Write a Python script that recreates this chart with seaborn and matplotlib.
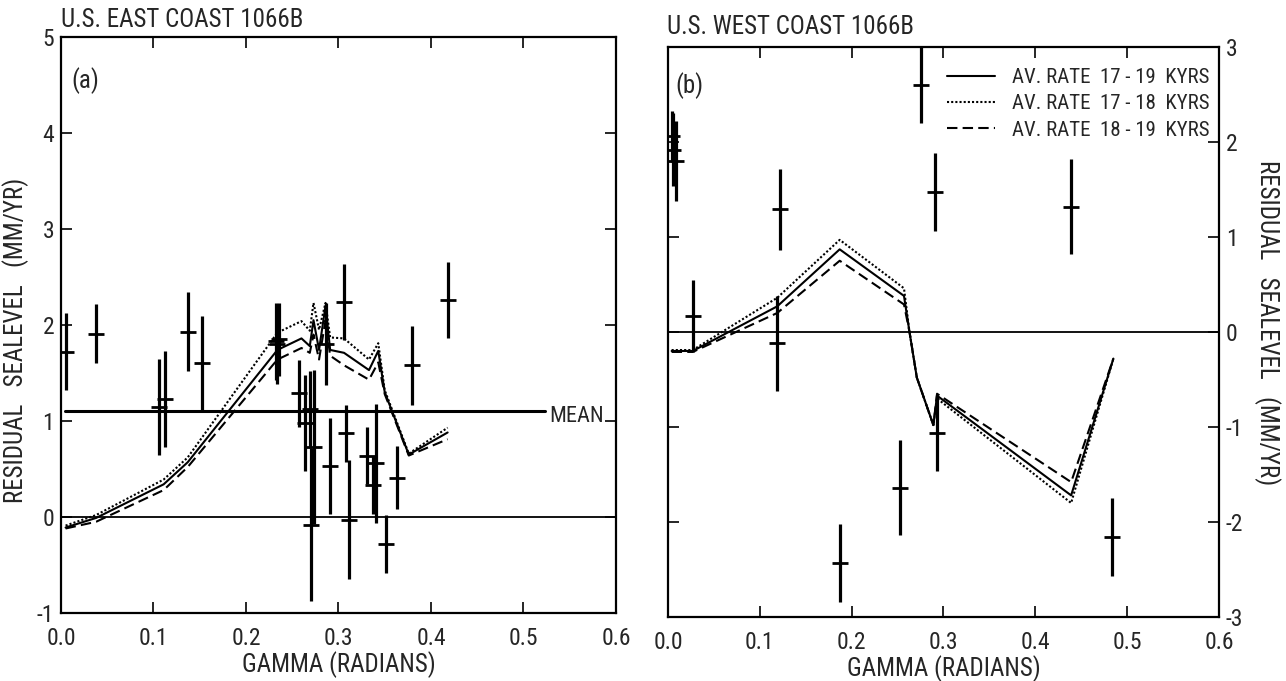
import matplotlib
matplotlib.use("Agg")
import matplotlib.pyplot as plt
import numpy as np
import pandas as pd
import seaborn as sns
from matplotlib import font_manager

# ---------------- data: panel (a) U.S. East Coast ----------------
east_gamma = [0.005, 0.038, 0.106, 0.112, 0.137, 0.152, 0.232, 0.234, 0.236,
              0.257, 0.264, 0.269, 0.270, 0.274, 0.286, 0.291, 0.306, 0.308,
              0.311, 0.331, 0.337, 0.341, 0.351, 0.363, 0.380, 0.418]
east_resid = [1.72, 1.91, 1.15, 1.23, 1.93, 1.60, 1.83, 1.80, 1.85,
              1.29, 0.98, 1.12, -0.08, 0.73, 1.80, 0.53, 2.24, 0.87,
              -0.03, 0.64, 0.33, 0.56, -0.28, 0.41, 1.58, 2.26]
east_err = [0.40, 0.31, 0.50, 0.50, 0.41, 0.49, 0.40, 0.42, 0.38,
            0.35, 0.50, 0.40, 0.80, 0.80, 0.43, 0.50, 0.40, 0.30,
            0.62, 0.30, 0.30, 0.62, 0.30, 0.33, 0.41, 0.40]
east_mean = 1.10

east_curve_gamma = [0.005, 0.038, 0.111, 0.137, 0.234, 0.260, 0.269, 0.273,
                    0.279, 0.286, 0.291, 0.306, 0.333, 0.343, 0.350, 0.376, 0.418]
east_rate_17_19 = [-0.11, -0.01, 0.34, 0.57, 1.74, 1.86, 1.78, 2.05,
                   1.74, 2.20, 1.74, 1.71, 1.53, 1.73, 1.30, 0.65, 0.88]
east_rate_17_18 = [-0.09, 0.02, 0.39, 0.62, 1.92, 2.04, 1.94, 2.23,
                   1.95, 2.23, 1.87, 1.86, 1.64, 1.81, 1.32, 0.66, 0.93]
east_rate_18_19 = [-0.12, -0.05, 0.28, 0.52, 1.64, 1.76, 1.71, 1.90,
                   1.64, 2.05, 1.68, 1.58, 1.43, 1.61, 1.28, 0.64, 0.81]

# ---------------- data: panel (b) U.S. West Coast ----------------
west_gamma = [0.004, 0.006, 0.009, 0.027, 0.119, 0.122, 0.187, 0.253,
              0.275, 0.291, 0.293, 0.439, 0.483]
west_resid = [2.06, 1.92, 1.80, 0.17, -0.12, 1.29, -2.43, -1.64,
              2.60, 1.47, -1.06, 1.32, -2.16]
west_err = [0.27, 0.38, 0.42, 0.38, 0.50, 0.43, 0.41, 0.50,
            0.40, 0.41, 0.40, 0.50, 0.41]

west_curve_gamma = [0.004, 0.027, 0.119, 0.187, 0.257, 0.263, 0.271, 0.289,
                    0.293, 0.439, 0.485]
west_rate_17_19 = [-0.20, -0.20, 0.27, 0.87, 0.38, 0.00, -0.48, -0.98,
                   -0.67, -1.72, -0.28]
west_rate_17_18 = [-0.19, -0.19, 0.36, 0.97, 0.46, 0.00, -0.48, -0.98,
                   -0.70, -1.80, -0.28]
west_rate_18_19 = [-0.21, -0.21, 0.20, 0.75, 0.29, 0.00, -0.48, -0.98,
                   -0.65, -1.58, -0.28]

series_names = ["AV. RATE  17 - 19  KYRS", "AV. RATE  17 - 18  KYRS",
                "AV. RATE  18 - 19  KYRS"]
x_ticks = [0.0, 0.1, 0.2, 0.3, 0.4, 0.5, 0.6]
x_ticklabels = ["0.0", "0.1", "0.2", "0.3", "0.4", "0.5", "0.6"]
east_yticks = [-1, 0, 1, 2, 3, 4, 5]
west_yticks = [-3, -2, -1, 0, 1, 2, 3]

# ---------------- style ----------------
sns.set_theme(style="ticks")
avail = {f.name for f in font_manager.fontManager.ttflist}
fam = [f for f in ["Liberation Sans Narrow", "Roboto Condensed", "DejaVu Sans"] if f in avail]
if not fam:
    fam = ["DejaVu Sans"]
plt.rcParams["font.family"] = fam + ["DejaVu Sans"]
plt.rcParams["axes.linewidth"] = 1.6

fig = plt.figure(figsize=(12.86, 6.81), dpi=100)
ax1 = fig.add_axes([0.0474, 0.0999, 0.4316, 0.8458])
ax2 = fig.add_axes([0.5194, 0.0940, 0.4285, 0.8370])

dash_map = {series_names[0]: "", series_names[1]: (1, 1), series_names[2]: (5, 2.5)}


def curves_df(g, a, b, c):
    rows = []
    for name, vals in zip(series_names, [a, b, c]):
        for gx, v in zip(g, vals):
            rows.append({"gamma": gx, "resid": v, "series": name})
    return pd.DataFrame(rows)


def draw_panel(ax, gam, res, err, cdf, legend):
    sns.lineplot(data=cdf, x="gamma", y="resid", style="series",
                 dashes=dash_map, color="black", linewidth=1.5,
                 estimator=None, sort=False, ax=ax, legend=legend)
    ax.errorbar(gam, res, yerr=err, fmt="none", ecolor="black",
                elinewidth=2.3, capsize=0)
    ax.plot(gam, res, ls="none", marker="_", ms=11, mew=2.0, color="black")
    ax.set_xlim(0, 0.6)
    ax.set_xticks(x_ticks)
    ax.set_xticklabels(x_ticklabels)
    ax.tick_params(axis="both", direction="in", length=8, width=1.4,
                   labelsize=17, top=True, bottom=True, left=True, right=True)
    ax.tick_params(axis="x", pad=10)
    ax.tick_params(axis="y", pad=5)
    ax.set_xlabel("GAMMA (RADIANS)", fontsize=18, labelpad=1)
    for s in ax.spines.values():
        s.set_color("black")


draw_panel(ax1, east_gamma, east_resid, east_err,
           curves_df(east_curve_gamma, east_rate_17_19, east_rate_17_18, east_rate_18_19),
           False)
ax1.set_ylim(-1, 5)
ax1.set_yticks(east_yticks)
ax1.set_yticklabels([str(v) for v in east_yticks])
for lab in ax1.get_yticklabels():
    lab.set_verticalalignment("center_baseline")
ax1.set_ylabel("RESIDUAL   SEALEVEL   (MM/YR)", fontsize=18)
ax1.yaxis.set_label_coords(-0.058, 0.474)
ax1.axhline(0, color="black", lw=1.3)
ax1.plot([0.004, 0.523], [east_mean, east_mean], color="black", lw=2.2)
ax1.text(0.528, east_mean - 0.05, "MEAN", fontsize=16, va="center", ha="left")
ax1.text(0.018, 0.925, "(a)", transform=ax1.transAxes, fontsize=18, va="center")

draw_panel(ax2, west_gamma, west_resid, west_err,
           curves_df(west_curve_gamma, west_rate_17_19, west_rate_17_18, west_rate_18_19),
           True)
ax2.set_ylim(-3, 3)
ax2.set_yticks(west_yticks)
ax2.set_yticklabels([str(v) for v in west_yticks])
ax2.tick_params(axis="y", labelleft=False, labelright=True)
for lab in ax2.get_yticklabels():
    lab.set_verticalalignment("center_baseline")
ax2.yaxis.set_label_position("right")
ax2.set_ylabel("RESIDUAL   SEALEVEL   (MM/YR)", fontsize=18, rotation=270,
               va="center")
ax2.yaxis.set_label_coords(1.087, 0.516)
ax2.axhline(0, color="black", lw=1.3)
ax2.text(0.013, 0.933, "(b)", transform=ax2.transAxes, fontsize=18, va="center")
leg = ax2.legend(loc="upper right", bbox_to_anchor=(1.005, 0.985), frameon=False,
                 fontsize=15, handlelength=2.3, labelspacing=0.35,
                 handletextpad=0.8, borderaxespad=0.2)
for h in leg.get_lines():
    h.set_color("black")
    h.set_linewidth(1.5)

fig.text(61 / 1286, 1 - 20 / 681, "U.S. EAST COAST 1066B", fontsize=18,
         va="center", ha="left")
fig.text(667 / 1286, 1 - 27 / 681, "U.S. WEST COAST 1066B", fontsize=18,
         va="center", ha="left")

fig.savefig("out.png", dpi=100, facecolor="white")
